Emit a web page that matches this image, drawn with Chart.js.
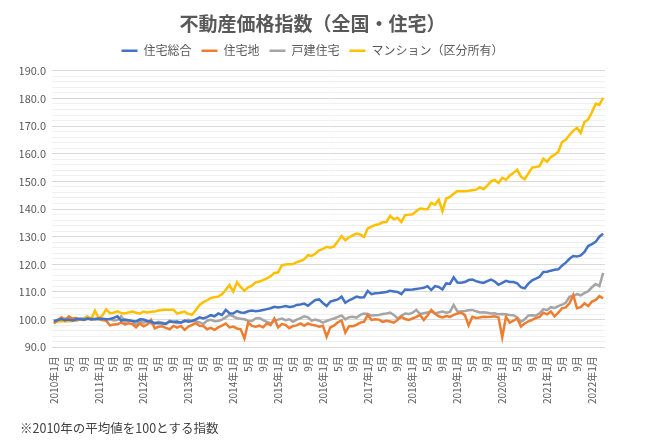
<!DOCTYPE html>
<html>
<head>
<meta charset="utf-8">
<script src="https://cdn.jsdelivr.net/npm/chart.js@4.4.1/dist/chart.umd.min.js"></script>
<style>
  html, body { margin: 0; padding: 0; background: #fff; }
  #wrap { width: 650px; height: 444px; }
</style>
</head>
<body>
<div id="wrap"><canvas id="chart"></canvas></div>
<script>
// monthly index, 2010年1月 .. 2022年4月 (2010 avg = 100)
const startYear = 2010;
const monthCount = 148;

const housingTotal = [
  99.4, 99.8, 100.2, 99.9, 100.0, 99.7, 100.1, 100.3, 100.0, 100.4, 100.1, 100.2,
  100.4, 100.3, 100.1, 100.2, 100.6, 101.2, 99.6, 100.0, 99.8, 99.5, 99.3, 100.1,
  100.0, 99.5, 99.3, 98.7, 98.8, 98.6, 98.4, 99.3, 99.2, 99.3, 98.9, 99.6,
  99.2, 99.5, 100.1, 100.8, 100.4, 100.9, 101.6, 101.2, 102.2, 101.7, 103.5, 102.3,
  102.2, 103.1, 102.6, 102.5, 103.0, 103.3, 103.0, 103.2, 103.5, 103.8, 104.1, 104.6,
  104.4, 104.6, 104.9, 104.6, 104.7, 105.3, 105.5, 105.8, 105.0, 106.1, 107.1, 107.3,
  106.0, 104.9, 106.5, 106.9, 107.3, 108.3, 106.1, 107.0, 107.6, 108.3, 108.0, 108.1,
  110.4, 109.2, 109.5, 109.6, 109.8, 110.0, 110.4, 110.2, 110.0, 109.2, 110.9, 110.8,
  110.9, 111.1, 111.3, 111.5, 112.1, 110.7, 112.1, 111.8, 110.9, 113.1, 112.9, 115.3,
  113.4, 113.3, 113.6, 114.3, 114.5, 113.9, 113.5, 113.3, 113.9, 114.5, 113.8, 112.6,
  113.3, 114.0, 113.6, 113.6, 113.1, 111.7, 111.3, 113.0, 114.2, 114.8, 115.5, 117.2,
  117.3, 117.7, 118.0, 118.2, 119.5, 120.6, 122.0, 123.0, 122.8, 123.2, 124.5, 126.6,
  127.3, 128.1, 130.0, 131.1
];

const residentialLand = [
  98.6, 99.8, 100.8, 99.6, 101.2, 100.4, 100.6, 100.0, 99.9, 100.2, 100.4, 100.1,
  100.3, 99.9, 99.6, 97.9, 98.2, 98.3, 98.9, 98.3, 98.7, 98.4, 97.2, 98.6,
  97.6, 98.2, 99.9, 96.8, 97.4, 97.6, 97.0, 96.5, 97.7, 97.1, 97.7, 96.3,
  97.5, 98.1, 98.7, 97.8, 97.7, 96.5, 97.0, 96.3, 97.2, 97.8, 98.6, 97.2,
  97.5, 96.8, 96.5, 93.2, 98.9, 97.7, 97.4, 97.8, 97.2, 98.6, 98.0, 100.4,
  97.2, 98.4, 98.1, 96.9, 97.7, 97.9, 98.6, 97.8, 98.6, 98.1, 97.9, 97.4,
  97.8, 93.8, 97.2, 97.9, 99.0, 99.7, 95.3, 97.6, 97.6, 98.1, 98.9, 99.2,
  101.7, 99.9, 100.1, 100.0, 99.2, 99.6, 99.3, 98.9, 99.9, 101.0, 100.2, 99.9,
  100.4, 101.0, 101.7, 99.9, 101.5, 103.5, 102.2, 101.2, 100.8, 101.3, 101.0, 101.7,
  102.2, 102.5, 101.6, 97.9, 101.0, 100.6, 100.8, 101.0, 100.9, 101.0, 101.2, 100.8,
  93.6, 101.0, 98.9, 99.6, 100.4, 97.5, 98.6, 99.4, 99.9, 100.6, 101.0, 102.5,
  101.9, 102.9, 101.2, 102.5, 104.1, 104.4, 105.9, 108.9, 104.1, 104.5, 105.9, 104.9,
  106.5, 107.1, 108.5, 107.7
];

const detachedHouse = [
  99.6, 99.9, 100.2, 100.4, 100.1, 100.0, 99.8, 100.2, 100.3, 100.4, 100.0, 100.2,
  100.1, 99.8, 99.9, 100.2, 99.7, 99.8, 101.2, 99.2, 99.7, 99.5, 97.9, 99.4,
  98.9, 99.3, 98.6, 98.7, 99.2, 98.9, 98.6, 99.6, 99.0, 98.7, 98.9, 99.4,
  99.9, 99.5, 99.4, 99.0, 98.4, 99.6, 99.9, 99.4, 99.5, 100.0, 100.8, 101.7,
  101.2, 100.5, 100.3, 100.1, 99.6, 99.5, 100.4, 100.6, 99.8, 99.2, 98.6, 99.6,
  100.0, 100.4, 99.8, 100.1, 99.2, 100.0, 100.5, 101.2, 100.8, 99.6, 100.0, 99.6,
  98.9, 99.5, 100.0, 100.4, 101.0, 101.5, 100.1, 100.9, 101.0, 100.7, 101.7, 102.2,
  102.0, 101.5, 101.6, 101.7, 102.0, 102.2, 102.5, 101.7, 100.4, 101.4, 102.2, 102.0,
  102.5, 103.5, 102.0, 102.3, 102.6, 102.9, 102.2, 102.6, 102.9, 102.5, 102.8, 105.3,
  103.0, 102.9, 103.1, 103.4, 103.5, 103.0, 102.6, 102.7, 102.5, 102.2, 102.3, 101.9,
  102.0, 101.9, 101.7, 101.6, 100.8, 99.2, 100.1, 101.5, 101.6, 101.5, 102.3, 103.8,
  103.4, 104.5, 104.2, 104.9, 105.4, 106.1, 108.3, 108.5, 109.2, 108.8, 109.6, 110.3,
  111.7, 112.9, 112.1, 116.9
];

const condominium = [
  98.9, 99.3, 99.4, 99.4, 99.4, 99.5, 99.6, 100.0, 100.4, 101.2, 100.2, 103.2,
  100.5, 101.5, 103.7, 102.3, 102.5, 103.0, 102.4, 102.2, 102.6, 102.9, 102.5, 102.2,
  102.9, 102.6, 102.8, 102.9, 103.3, 103.5, 103.6, 103.6, 103.6, 102.2, 102.6, 102.9,
  102.0, 101.8, 103.5, 105.3, 106.3, 107.0, 107.8, 108.1, 108.3, 109.2, 110.7, 112.5,
  110.1, 113.5, 111.8, 110.4, 111.7, 112.3, 113.5, 113.8, 114.3, 114.9, 115.7, 116.9,
  117.0, 119.6, 119.9, 120.0, 120.1, 120.8, 121.2, 121.8, 123.3, 123.0, 123.9, 125.1,
  125.6, 126.3, 126.0, 126.5, 128.3, 130.2, 128.7, 129.8, 130.5, 131.1, 130.8, 129.9,
  133.0, 133.6, 134.2, 134.5, 135.2, 135.3, 137.5, 136.3, 136.8, 135.3, 137.8, 137.9,
  138.1, 139.2, 140.2, 140.0, 139.9, 142.2, 141.6, 143.4, 139.2, 143.8, 144.4, 145.5,
  146.5, 146.4, 146.4, 146.6, 146.8, 147.0, 147.9, 147.2, 148.5, 150.0, 150.5, 149.4,
  151.3, 150.6, 152.1, 153.0, 154.2, 151.7, 150.8, 152.9, 155.0, 155.2, 155.5, 158.2,
  157.1, 158.8, 159.6, 160.7, 164.2, 165.0, 166.8, 168.3, 169.4, 167.5, 171.5, 172.4,
  175.0, 178.1, 177.7, 180.2
];

const seriesNames = ['住宅総合', '住宅地', '戸建住宅', 'マンション（区分所有）'];
const seriesColors = ['#4472C4', '#ED7D31', '#A5A5A5', '#FFC000'];

const yMin = 90;
const yMax = 190;

const months = [];
for (let i = 0; i < monthCount; i++) {
  const y = startYear + Math.floor(i / 12);
  const m = (i % 12) + 1;
  months.push(m === 1 ? y + '年1月' : m + '月');
}

const FONT = "'Noto Sans CJK JP', 'Noto Sans', sans-serif";
Chart.defaults.font.family = FONT;
Chart.defaults.color = '#595959';

const values = [housingTotal, residentialLand, detachedHouse, condominium];

// extra space under the legend, like the Excel original
const legendGap = {
  id: 'legendGap',
  beforeInit(chart) {
    const fit = chart.legend.fit;
    chart.legend.fit = function () {
      fit.bind(chart.legend)();
      this.height += 4;
    };
  },
};

new Chart(document.getElementById('chart'), {
  type: 'line',
  data: {
    labels: months,
    datasets: values.map((d, k) => ({
      label: seriesNames[k],
      data: d,
      borderColor: seriesColors[k],
      backgroundColor: seriesColors[k],
      borderWidth: 2.5,
      pointRadius: 0,
      tension: 0,
    })),
  },
  plugins: [legendGap],
  options: {
    responsive: true,
    maintainAspectRatio: false,
    animation: false,
    layout: {padding: {left: 20, right: 45, top: 8, bottom: 8}},
    plugins: {
      title: {
        display: true,
        text: '不動産価格指数（全国・住宅）',
        color: '#595959',
        font: {size: 19, weight: 'bold'},
        padding: {top: 4, bottom: 0},
      },
      subtitle: {
        display: true,
        position: 'bottom',
        align: 'start',
        text: '※2010年の平均値を100とする指数',
        color: '#404040',
        font: {size: 12.5},
        padding: {top: 16, bottom: 0},
      },
      legend: {
        position: 'top',
        labels: {
          usePointStyle: true,
          pointStyle: 'line',
          pointStyleWidth: 16,
          boxHeight: 8,
          padding: 10,
          color: '#595959',
          font: {size: 12},
        },
      },
      tooltip: {enabled: false},
    },
    scales: {
      x: {
        offset: true,
        grid: {display: false},
        border: {display: false},
        ticks: {
          autoSkip: false,
          minRotation: 90,
          maxRotation: 90,
          padding: 1,
          font: {size: 10},
          color: '#595959',
          callback: (v, i) => (i % 4 === 0 ? months[i] : ''),
        },
      },
      y: {
        min: yMin,
        max: yMax,
        border: {display: false},
        afterFit: (scale) => { scale.width = 32; },
        grid: {
          drawTicks: false,
          color: (c) => (c.tick && c.tick.value % 10 === 0 ? '#d9d9d9' : '#f0f0f0'),
          lineWidth: 1,
        },
        ticks: {
          stepSize: 2,
          autoSkip: false,
          padding: 6,
          font: {size: 11},
          color: '#595959',
          callback: (v) => (v % 10 === 0 ? v.toFixed(1) : ''),
        },
      },
    },
  },
});
</script>
</body>
</html>
